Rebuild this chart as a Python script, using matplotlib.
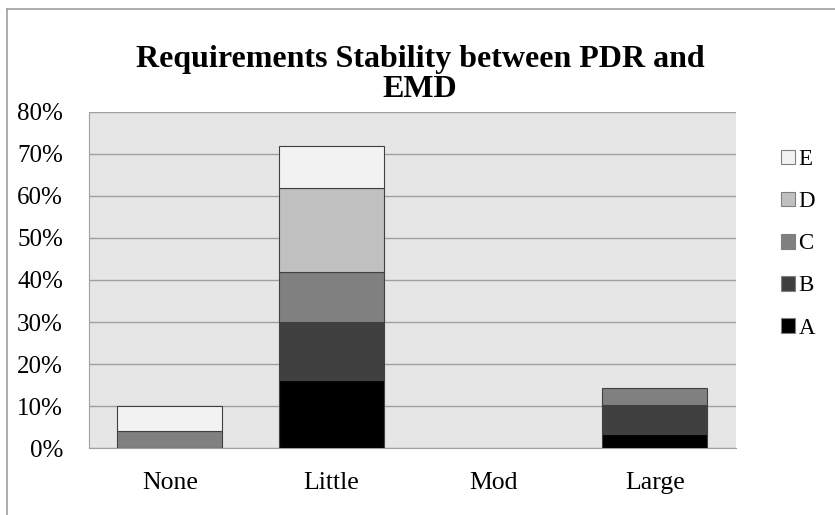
import numpy as np
import matplotlib.pyplot as plt
from matplotlib.lines import Line2D
from matplotlib.patches import Patch

plt.rcParams['font.family'] = ['Liberation Serif', 'DejaVu Serif']

categories = ["None", "Little", "Mod", "Large"]
series = ["A", "B", "C", "D", "E"]
A = [0.0, 16.3, 0.0, 3.4]
B = [0.0, 13.6, 0.0, 6.8]
C = [4.1, 11.9, 0.0, 4.1]
D = [0.0, 20.0, 0.0, 0.0]
E = [5.9, 10.0, 0.0, 0.0]
colors = ["#000000", "#404040", "#808080", "#c0c0c0", "#f2f2f2"]

fig = plt.figure(figsize=(8.35, 5.15), dpi=100)
ax = fig.add_axes([89/835, 1 - 448.3/515, (735.7 - 89)/835, (448.3 - 111.7)/515])
ax.set_facecolor("#e6e6e6")

x = np.arange(len(categories))
bottom = np.zeros(len(categories))
handles = []
for name, vals, col in zip(series, [A, B, C, D, E], colors):
    vals = np.array(vals)
    keep = vals > 0
    ax.bar(x[keep], vals[keep], 0.65, bottom=bottom[keep], color=col,
           edgecolor="#404040", linewidth=0.8, zorder=3)
    bottom = bottom + vals
    handles.append(Patch(facecolor=col, edgecolor="#808080", linewidth=0.8, label=name))

ax.set_xlim(-0.5, 3.5)
ax.set_ylim(0, 80)
ax.set_yticks(np.arange(0, 81, 10))
ax.set_yticklabels([f"{v}%" for v in range(0, 81, 10)], fontsize=18)
ax.set_xticks(x)
ax.set_xticklabels(categories, fontsize=18.5)
ax.tick_params(axis="both", length=0)
ax.tick_params(axis="y", pad=18.7)
ax.tick_params(axis="x", pad=17)
ax.yaxis.grid(True, color="#a0a0a0", linewidth=1.0, zorder=0)
ax.set_axisbelow(True)
for s in ["top", "right"]:
    ax.spines[s].set_visible(False)
for s in ["left", "bottom"]:
    ax.spines[s].set_color("#a0a0a0")

fig.text(420/835, 1 - 66.7/515, "Requirements Stability between PDR and",
         ha="center", va="baseline", fontsize=23, fontweight="bold")
fig.text(420/835, 1 - 96.7/515, "EMD",
         ha="center", va="baseline", fontsize=23, fontweight="bold")

fig.legend(handles=handles[::-1], loc="upper left", bbox_to_anchor=(772/835, 1 - 140/515),
           frameon=False, fontsize=16.5, handlelength=0.6, handleheight=0.6,
           handletextpad=0.15, labelspacing=0.92, borderaxespad=0)

fig.add_artist(Line2D([7/835, 1], [1 - 9/515, 1 - 9/515], color="#a0a0a0", linewidth=1.2))
fig.add_artist(Line2D([7/835, 7/835], [0, 1 - 9/515], color="#a0a0a0", linewidth=1.2))

fig.savefig("out.png", dpi=100)
